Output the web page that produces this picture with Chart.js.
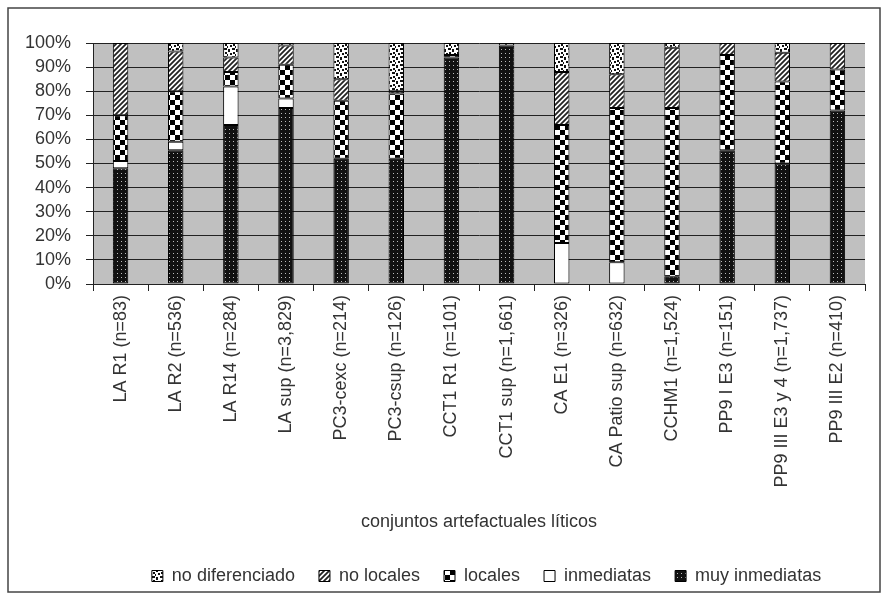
<!DOCTYPE html>
<html>
<head>
<meta charset="utf-8">
<script src="https://cdn.jsdelivr.net/npm/chart.js@4"></script>
<style>
  html, body { margin: 0; padding: 0; background: #fff; }
  #wrap { position: relative; width: 887px; height: 598px; }
</style>
</head>
<body>
<div id="wrap"><canvas id="chart" width="887" height="598"></canvas></div>
<script>
// conjuntos artefactuales (categorias del eje x)
const categories = [
    'LA R1 (n=83)', 'LA R2 (n=536)', 'LA R14 (n=284)', 'LA sup (n=3,829)',
    'PC3-cexc (n=214)', 'PC3-csup (n=126)', 'CCT1 R1 (n=101)', 'CCT1 sup (n=1,661)',
    'CA E1 (n=326)', 'CA Patio sup (n=632)', 'CCHM1 (n=1,524)', 'PP9 I E3 (n=151)',
    'PP9 III E3 y 4 (n=1,737)', 'PP9 III E2 (n=410)'
];

// porcentajes por fuente de materia prima
const muyInmediatas  = [48, 55.5, 66, 73, 52, 52, 94, 99, 0, 0, 3, 55.5, 50, 72];
const inmediatas     = [3, 3.5, 16, 4, 0, 0, 0, 0, 17, 9, 0, 0, 0, 0];
const locales        = [19, 21, 6, 14, 24, 27, 1, 0, 49, 64, 70, 39.5, 34, 17];
const noLocales      = [30, 16.5, 6, 8, 9, 1, 0, 0, 22, 14, 25, 5, 12, 11];
const noDiferenciado = [0, 3.5, 6, 1, 15, 20, 5, 1, 12, 13, 2, 0, 4, 0];

const yTicks = [0, 10, 20, 30, 40, 50, 60, 70, 80, 90, 100];

// --- fill patterns ---
function makePattern(size, draw) {
    const c = document.createElement('canvas');
    c.width = size; c.height = size;
    const g = c.getContext('2d');
    draw(g, size);
    return g.createPattern(c, 'repeat');
}

const patDots = makePattern(4, function(g, s) {
    g.fillStyle = '#111';
    g.fillRect(0, 0, s, s);
    g.fillStyle = '#bbb';
    g.fillRect(1, 1, 1, 1);
});

const patChecker = makePattern(10, function(g, s) {
    g.fillStyle = '#fff';
    g.fillRect(0, 0, s, s);
    g.fillStyle = '#000';
    g.fillRect(0, 0, 5, 5);
    g.fillRect(5, 5, 5, 5);
});

const patStripes = makePattern(5, function(g, s) {
    g.fillStyle = '#fff';
    g.fillRect(0, 0, s, s);
    g.strokeStyle = '#222';
    g.lineWidth = 1.8;
    g.beginPath();
    g.moveTo(-1, s + 1); g.lineTo(s + 1, -1);
    g.moveTo(-1, 1); g.lineTo(1, -1);
    g.moveTo(s - 1, s + 1); g.lineTo(s + 1, s - 1);
    g.stroke();
});

const patConfetti = makePattern(8, function(g, s) {
    g.fillStyle = '#fff';
    g.fillRect(0, 0, s, s);
    g.fillStyle = '#111';
    g.fillRect(0, 0, 3, 2);
    g.fillRect(4, 1, 2, 3);
    g.fillRect(1, 4, 2, 2);
    g.fillRect(6, 5, 2, 2);
    g.fillRect(3, 6, 1, 2);
});

// plot background and outer frame
const backdrop = {
    id: 'backdrop',
    afterLayout(chart) {
        // legend sits a bit right of centre in the original
        chart.legend.left += 108;
    },
    beforeDraw(chart) {
        const ctx = chart.ctx;
        const a = chart.chartArea;
        ctx.save();
        ctx.fillStyle = '#fff';
        ctx.fillRect(0, 0, chart.width, chart.height);
        ctx.strokeStyle = '#444';
        ctx.lineWidth = 1.5;
        ctx.strokeRect(8, 8, 872, 584);
        ctx.fillStyle = '#c0c0c0';
        ctx.fillRect(a.left, a.top, a.right - a.left, a.bottom - a.top);
        ctx.restore();
    }
};

const ds = (label, data, bg) => ({
    label: label,
    data: data,
    backgroundColor: bg,
    borderColor: '#000',
    borderWidth: 1,
    borderSkipped: false,
    categoryPercentage: 1,
    barPercentage: 0.28
});

const font = { family: "'Liberation Sans', Arial, sans-serif", size: 18 };

new Chart(document.getElementById('chart').getContext('2d'), {
    type: 'bar',
    data: {
        labels: categories,
        datasets: [
            ds('muy inmediatas', muyInmediatas, patDots),
            ds('inmediatas', inmediatas, '#fff'),
            ds('locales', locales, patChecker),
            ds('no locales', noLocales, patStripes),
            ds('no diferenciado', noDiferenciado, patConfetti)
        ]
    },
    options: {
        responsive: false,
        animation: false,
        layout: { padding: { top: 43, left: 0, right: 22, bottom: 3 } },
        plugins: {
            tooltip: { enabled: false },
            legend: {
                position: 'bottom',
                reverse: true,
                labels: {
                    color: '#333',
                    font: font,
                    boxWidth: 11,
                    boxHeight: 11,
                    padding: 24
                }
            }
        },
        scales: {
            x: {
                stacked: true,
                afterFit: s => { s.height = 259; },
                grid: {
                    offset: true,
                    drawOnChartArea: false,
                    drawTicks: true,
                    tickLength: 7,
                    color: '#222'
                },
                border: { color: '#222', width: 1 },
                ticks: {
                    color: '#333',
                    font: font,
                    padding: 4,
                    autoSkip: false,
                    minRotation: 90,
                    maxRotation: 90
                },
                title: {
                    display: true,
                    text: 'conjuntos artefactuales líticos',
                    color: '#333',
                    font: font,
                    padding: { top: 0, bottom: 10 }
                }
            },
            y: {
                stacked: true,
                min: 0,
                max: 100,
                afterFit: s => { s.width = 93; },
                afterBuildTicks: s => { s.ticks = yTicks.map(v => ({ value: v })); },
                grid: {
                    color: '#222',
                    lineWidth: 1,
                    tickLength: 7
                },
                border: { color: '#222', width: 1 },
                ticks: {
                    color: '#333',
                    font: font,
                    padding: 15,
                    autoSkip: false,
                    callback: v => v + '%'
                }
            }
        }
    },
    plugins: [backdrop]
});
</script>
</body>
</html>
